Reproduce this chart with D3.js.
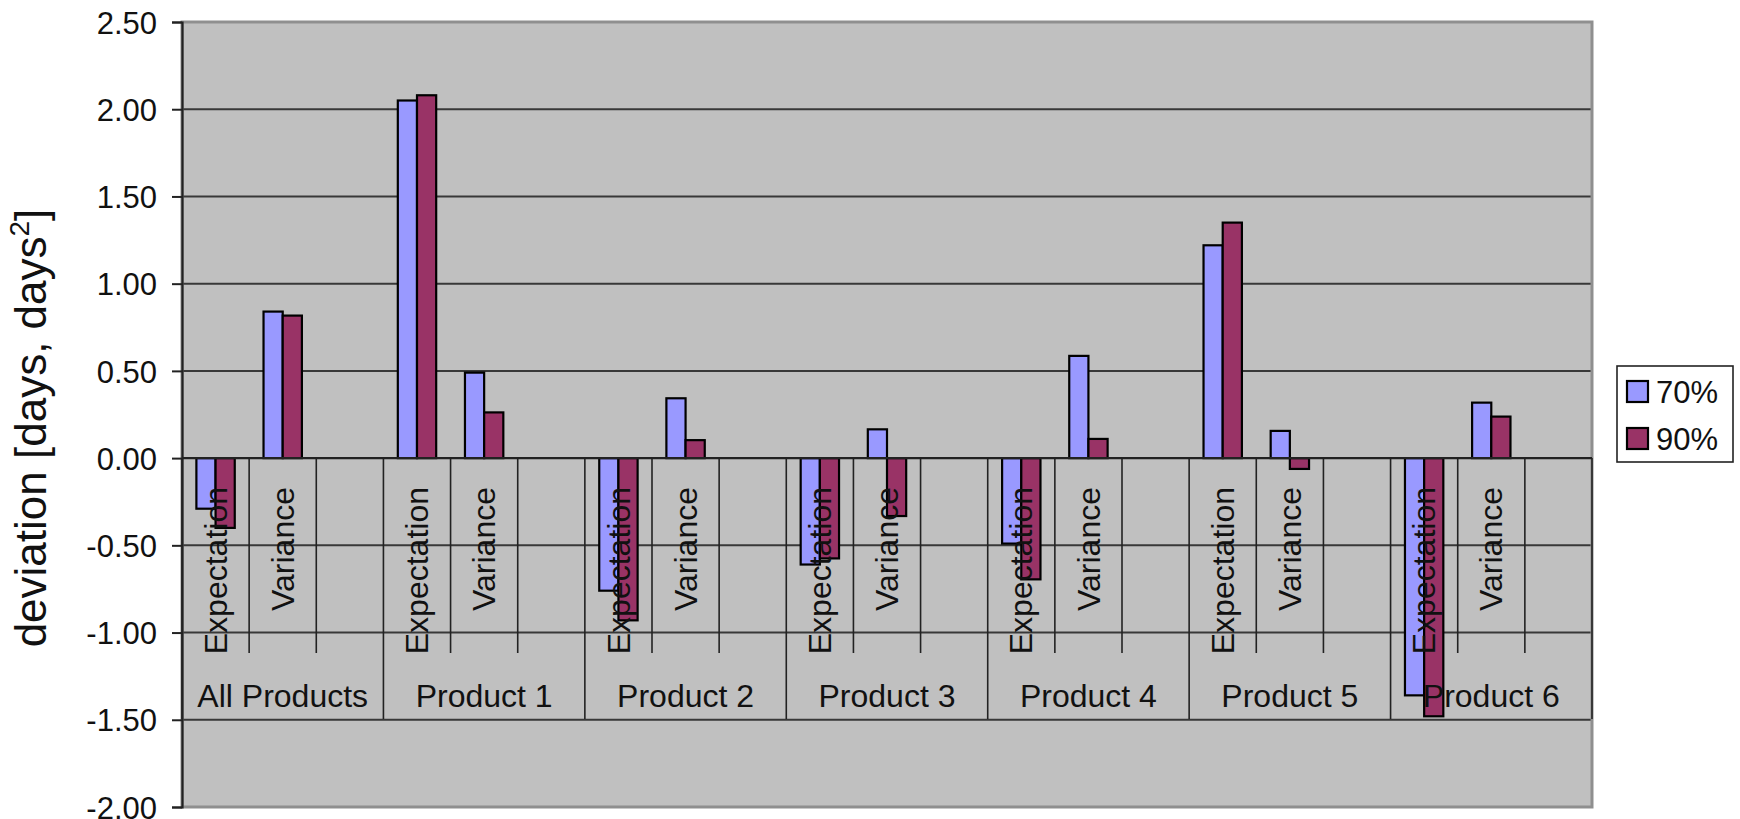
<!DOCTYPE html>
<html>
<head>
<meta charset="utf-8">
<script src="https://cdn.jsdelivr.net/npm/d3@7"></script>
<style>
  html, body { margin: 0; padding: 0; background: #ffffff; }
  svg { display: block; font-family: "Liberation Sans", Arial, sans-serif; }
</style>
</head>
<body>
<svg id="chart" width="1740" height="819"></svg>
<script>
// ---- data ----
const groups = ["All Products", "Product 1", "Product 2", "Product 3", "Product 4", "Product 5", "Product 6"];
const slots = ["Expectation", "Variance", ""];
const seriesNames = ["70%", "90%"];
// values per group: [Expectation, Variance]
const values70 = [
  [-0.29, 0.84], [2.05, 0.49], [-0.76, 0.343], [-0.61, 0.165],
  [-0.49, 0.586], [1.22, 0.156], [-1.36, 0.318]
];
const values90 = [
  [-0.40, 0.817], [2.08, 0.262], [-0.93, 0.103], [-0.575, -0.332],
  [-0.695, 0.11], [1.35, -0.062], [-1.48, 0.238]
];
const yTickValues = [2.5, 2.0, 1.5, 1.0, 0.5, 0.0, -0.5, -1.0, -1.5, -2.0];
const yTitle = "deviation [days, days";
const seriesColors = ["#9999FF", "#993366"];

// ---- layout ----
const L = 182, R = 1592, T = 22, B = 807;
const svg = d3.select("#chart");

const y = d3.scaleLinear().domain([-2, 2.5]).range([B, T]);
const xGroup = d3.scaleBand().domain(groups).range([L, R]).padding(0);
const xSlot = d3.scaleBand().domain(slots).range([0, xGroup.bandwidth()]).padding(0);
const xSeries = d3.scaleBand().domain(seriesNames).range([0, xSlot.bandwidth()])
  .paddingInner(0).paddingOuter(0.75);

// plot background
svg.append("rect").attr("x", L).attr("y", T).attr("width", R - L).attr("height", B - T)
  .attr("fill", "#C0C0C0");

// gridlines
svg.append("g").selectAll("line").data(yTickValues.filter(v => v !== 0 && v !== 2.5 && v !== -2))
  .join("line")
  .attr("x1", L).attr("x2", R)
  .attr("y1", d => y(d)).attr("y2", d => y(d))
  .attr("stroke", "#383838").attr("stroke-width", 2);

// bars
const barData = [];
groups.forEach((g, gi) => {
  ["Expectation", "Variance"].forEach((s, si) => {
    barData.push({ g, s, series: "70%", v: values70[gi][si], c: seriesColors[0] });
    barData.push({ g, s, series: "90%", v: values90[gi][si], c: seriesColors[1] });
  });
});
svg.append("g").selectAll("rect").data(barData).join("rect")
  .attr("x", d => xGroup(d.g) + xSlot(d.s) + xSeries(d.series))
  .attr("width", xSeries.bandwidth())
  .attr("y", d => y(Math.max(0, d.v)))
  .attr("height", d => Math.abs(y(d.v) - y(0)))
  .attr("fill", d => d.c)
  .attr("stroke", "#000").attr("stroke-width", 2.2);

// plot border (gray)
svg.append("rect").attr("x", L).attr("y", T).attr("width", R - L).attr("height", B - T)
  .attr("fill", "none").attr("stroke", "#8f8f8f").attr("stroke-width", 3);

// y axis
const fmt = d3.format(".2f");
const yAxis = d3.axisLeft(y).tickValues(yTickValues).tickSize(10).tickPadding(15)
  .tickFormat(d => fmt(d).replace("\u2212", "-"));
const gy = svg.append("g").attr("transform", `translate(${L},0)`).call(yAxis);
gy.select(".domain").attr("stroke", "#222").attr("stroke-width", 2.2);
gy.selectAll(".tick line").attr("stroke", "#222").attr("stroke-width", 2);
gy.selectAll(".tick text").attr("font-size", 31).attr("fill", "#111")
  .attr("font-family", "Liberation Sans, Arial, sans-serif").attr("dy", "0.36em");

// category axis at zero
const y0 = y(0);
svg.append("line").attr("x1", L).attr("x2", R).attr("y1", y0).attr("y2", y0)
  .attr("stroke", "#222").attr("stroke-width", 2.2);

// separators: sub-slot boundaries
const subSepBottom = 653, groupSepBottom = 719;
const subSeps = [];
groups.forEach(g => slots.forEach((s, i) => { if (i > 0) subSeps.push(xGroup(g) + xSlot(s)); }));
svg.append("g").selectAll("line").data(subSeps).join("line")
  .attr("x1", d => d).attr("x2", d => d).attr("y1", y0).attr("y2", subSepBottom)
  .attr("stroke", "#222").attr("stroke-width", 1.6);
const groupSeps = groups.map(g => xGroup(g)).concat([R]);
svg.append("g").selectAll("line").data(groupSeps).join("line")
  .attr("x1", d => d).attr("x2", d => d).attr("y1", y0).attr("y2", groupSepBottom)
  .attr("stroke", "#222").attr("stroke-width", 1.6);

// inner labels (rotated)
const inner = [];
groups.forEach(g => slots.forEach(s => { if (s) inner.push({ g, s }); }));
svg.append("g").selectAll("text").data(inner).join("text")
  .attr("transform", d => `translate(${xGroup(d.g) + xSlot(d.s) + xSlot.bandwidth() / 2},${487}) rotate(-90)`)
  .attr("text-anchor", "end").attr("dy", "0.35em")
  .attr("font-size", 32).attr("fill", "#111")
  .text(d => d.s);

// group labels
svg.append("g").selectAll("text").data(groups).join("text")
  .attr("x", d => xGroup(d) + xGroup.bandwidth() / 2).attr("y", 707)
  .attr("text-anchor", "middle").attr("font-size", 32).attr("fill", "#111")
  .text(d => d);

// y title
const title = svg.append("text")
  .attr("transform", `translate(${46},${428}) rotate(-90)`)
  .attr("text-anchor", "middle").attr("font-size", 44).attr("fill", "#111");
title.append("tspan").text(yTitle);
title.append("tspan").attr("font-size", 28).attr("dy", -17).text("2");
title.append("tspan").attr("dy", 17).text("]");

// legend
const lg = svg.append("g");
lg.append("rect").attr("x", 1617).attr("y", 366).attr("width", 116).attr("height", 96)
  .attr("fill", "#fff").attr("stroke", "#222").attr("stroke-width", 1.6);
seriesNames.forEach((s, i) => {
  const cy = 391.5 + i * 47;
  lg.append("rect").attr("x", 1627).attr("y", cy - 10.5).attr("width", 21).attr("height", 21)
    .attr("fill", seriesColors[i]).attr("stroke", "#000").attr("stroke-width", 2.2);
  lg.append("text").attr("x", 1656).attr("y", cy).attr("dy", "0.36em")
    .attr("font-size", 31).attr("fill", "#111").text(s);
});
</script>
</body>
</html>
